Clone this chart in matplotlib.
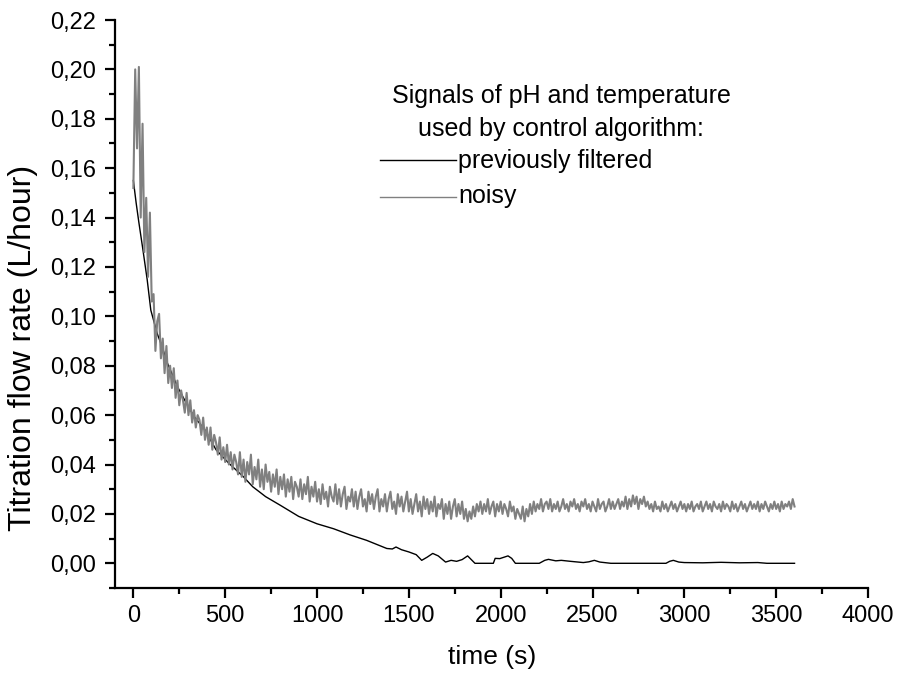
import numpy as np
import matplotlib
matplotlib.use("Agg")
import matplotlib.pyplot as plt
from matplotlib.lines import Line2D
from matplotlib.ticker import MultipleLocator, FuncFormatter

plt.rcParams['font.family'] = ['Liberation Sans', 'DejaVu Sans']

# ---- data ----
# noisy signal: sampled every 10 s from 0 to 3600 s (values in mL/hour -> /1000)
noisy_step = 10
noisy_milli = [
    152, 200, 168, 201, 140, 178, 126, 148, 116, 142, 106,
    109, 86, 98, 101, 83, 91, 77, 88, 73, 80,
    71, 79, 67, 74, 64, 70, 66, 61, 69, 60,
    66, 57, 62, 55, 60, 58, 52, 59, 50, 55,
    48, 55, 46, 52, 49, 44, 51, 42, 47, 41,
    48, 40, 45, 38, 44, 41, 36, 45, 35, 42,
    33, 41, 36, 44, 32, 39, 34, 42, 31, 38,
    30, 40, 33, 37, 29, 36, 31, 38, 28, 35,
    30, 36, 27, 34, 29, 35, 26, 33, 31, 27,
    34, 26, 32, 28, 35, 25, 31, 27, 33, 25,
    30, 24, 32, 26, 29, 23, 31, 27, 25, 32,
    24, 30, 23, 28, 31, 22, 27, 25, 30, 23,
    29, 22, 27, 30, 23, 26, 21, 29, 24, 28,
    22, 27, 30, 21, 26, 23, 28, 21, 26, 29,
    22, 25, 20, 28, 23, 27, 21, 25, 29, 21,
    26, 20, 24, 28, 21, 25, 19, 27, 22, 26,
    20, 25, 21, 27, 19, 24, 22, 26, 18, 24,
    20, 25, 18, 23, 26, 19, 24, 20, 25, 18,
    22, 17, 21, 18, 23, 19, 24, 21, 25, 20,
    24, 21, 26, 20, 23, 25, 19, 24, 21, 25,
    20, 24, 22, 19, 25, 21, 23, 18, 22, 20,
    18, 23, 17, 22, 19, 24, 20, 25, 21, 24,
    22, 26, 21, 24, 25, 22, 26, 21, 24, 22,
    25, 21, 23, 26, 22, 24, 21, 25, 23, 26,
    22, 24, 21, 25, 23, 26, 22, 24, 21, 25,
    23, 21, 26, 22, 24, 25, 21, 23, 26, 22,
    25, 22, 24, 26, 22, 25, 23, 27, 22, 26,
    23, 27.5, 24, 27, 22, 26, 24, 27, 23, 25,
    22, 24, 21, 25, 22, 23, 21, 25, 22, 24,
    21, 23, 25, 22, 24, 21, 23, 25, 22, 24,
    21, 24, 22, 25, 21, 23, 24, 22, 25, 21,
    23, 25, 22, 24, 21, 25, 23, 22, 24, 21,
    25, 22, 24, 23, 21, 25, 22, 24, 21, 23,
    25, 22, 24, 21, 23, 25, 22, 24, 22, 25,
    21, 24, 22, 25, 23, 21, 24, 22, 25, 22,
    24, 21, 25, 22, 24, 23, 25, 22, 26, 23,
]

# previously filtered signal
filtered_t = [0, 15, 30, 50, 75, 95, 130, 160, 180, 240, 280, 330, 390, 450,
              520, 600, 650, 720, 800, 900, 1000, 1090, 1180, 1270, 1330, 1380,
              1410, 1430, 1460, 1500, 1540, 1570, 1600, 1630, 1660, 1700, 1730,
              1760, 1790, 1820, 1840, 1860, 1960, 1970, 1995, 2040, 2060, 2080,
              2210, 2240, 2260, 2300, 2330, 2380, 2450, 2480, 2510, 2540, 2600,
              2900, 2920, 2940, 2970, 3000, 3100, 3200, 3300, 3400, 3450, 3600]
filtered_milli = [155, 146, 138, 128, 115, 102.5, 93, 87, 82, 71.5, 66, 59.5, 54, 46,
                  40.5, 35, 31, 27, 23.5, 19, 16, 14, 11.5, 9.3, 7.5, 6,
                  5.8, 6.6, 5.5, 4.6, 3.5, 1.2, 2.5, 4, 3, 0.5, 1.2,
                  0.8, 1.5, 3, 1.5, 0, 0, 2, 1.9, 3, 2, 0,
                  0, 1.2, 1.6, 1, 1.2, 0.8, 0.3, 0.6, 1.2, 0.5, 0,
                  0, 0.8, 1.2, 0.5, 0.3, 0.2, 0.4, 0.2, 0.3, 0, 0]

legend_title = ["Signals of pH and temperature", "used by control algorithm:"]
label_filtered = "previously filtered"
label_noisy = "noisy"
xlabel = "time (s)"
ylabel = "Titration flow rate (L/hour)"

xlim = (-100, 4000)
ylim = (-0.01, 0.22)

# ---- plot ----
noisy = np.array(noisy_milli) / 1000.0
noisy_t = np.arange(len(noisy)) * noisy_step
filtered = np.array(filtered_milli) / 1000.0

W, H = 898, 676
fig = plt.figure(figsize=(W / 100, H / 100), dpi=100)
ax = fig.add_axes([115 / W, 1 - 588 / H, (868 - 115) / W, (588 - 20) / H])

c_filt = 'black'
c_noisy = '#808080'
ax.plot(filtered_t, filtered, color=c_filt, lw=1.0, zorder=2)
ax.plot(noisy_t, noisy, color=c_noisy, lw=1.5, zorder=3)

ax.set_xlim(*xlim)
ax.set_ylim(*ylim)

ax.xaxis.set_major_locator(MultipleLocator(500))
ax.xaxis.set_minor_locator(MultipleLocator(250))
ax.yaxis.set_major_locator(MultipleLocator(0.02))
ax.yaxis.set_minor_locator(MultipleLocator(0.01))
ax.yaxis.set_major_formatter(FuncFormatter(lambda v, p: f"{v:.2f}".replace('.', ',')))
ax.xaxis.set_major_formatter(FuncFormatter(lambda v, p: f"{v:.0f}"))

for s in ['top', 'right']:
    ax.spines[s].set_visible(False)
for s in ['left', 'bottom']:
    ax.spines[s].set_linewidth(1.6)

ax.tick_params(which='major', direction='out', length=7.5, width=1.6, labelsize=17)
ax.tick_params(axis='y', which='major', pad=6)
ax.tick_params(axis='x', which='major', pad=5)
ax.tick_params(which='minor', direction='out', length=4, width=1.6)

fig.text(492 / W, 1 - 657 / H, xlabel, fontsize=19, ha='center', va='center')
fig.text(23 / W, 1 - 348 / H, ylabel, fontsize=23, ha='center', va='center',
         rotation=90)

# legend block (title + two entries)
fs_leg = 18
fig.text(561 / W, 1 - 103.3 / H, legend_title[0], fontsize=fs_leg, ha='center', va='baseline')
fig.text(561 / W, 1 - 136 / H, legend_title[1], fontsize=fs_leg, ha='center', va='baseline')
for (lab, col, base, ly) in [(label_filtered, c_filt, 168, 160), (label_noisy, c_noisy, 203, 197)]:
    fig.add_artist(Line2D([380 / W, 456 / W], [1 - ly / H, 1 - ly / H], color=col, lw=1.0,
                          transform=fig.transFigure))
    fig.text(458 / W, 1 - base / H, lab, fontsize=fs_leg, ha='left', va='baseline')

fig.savefig("out.png", dpi=100)
